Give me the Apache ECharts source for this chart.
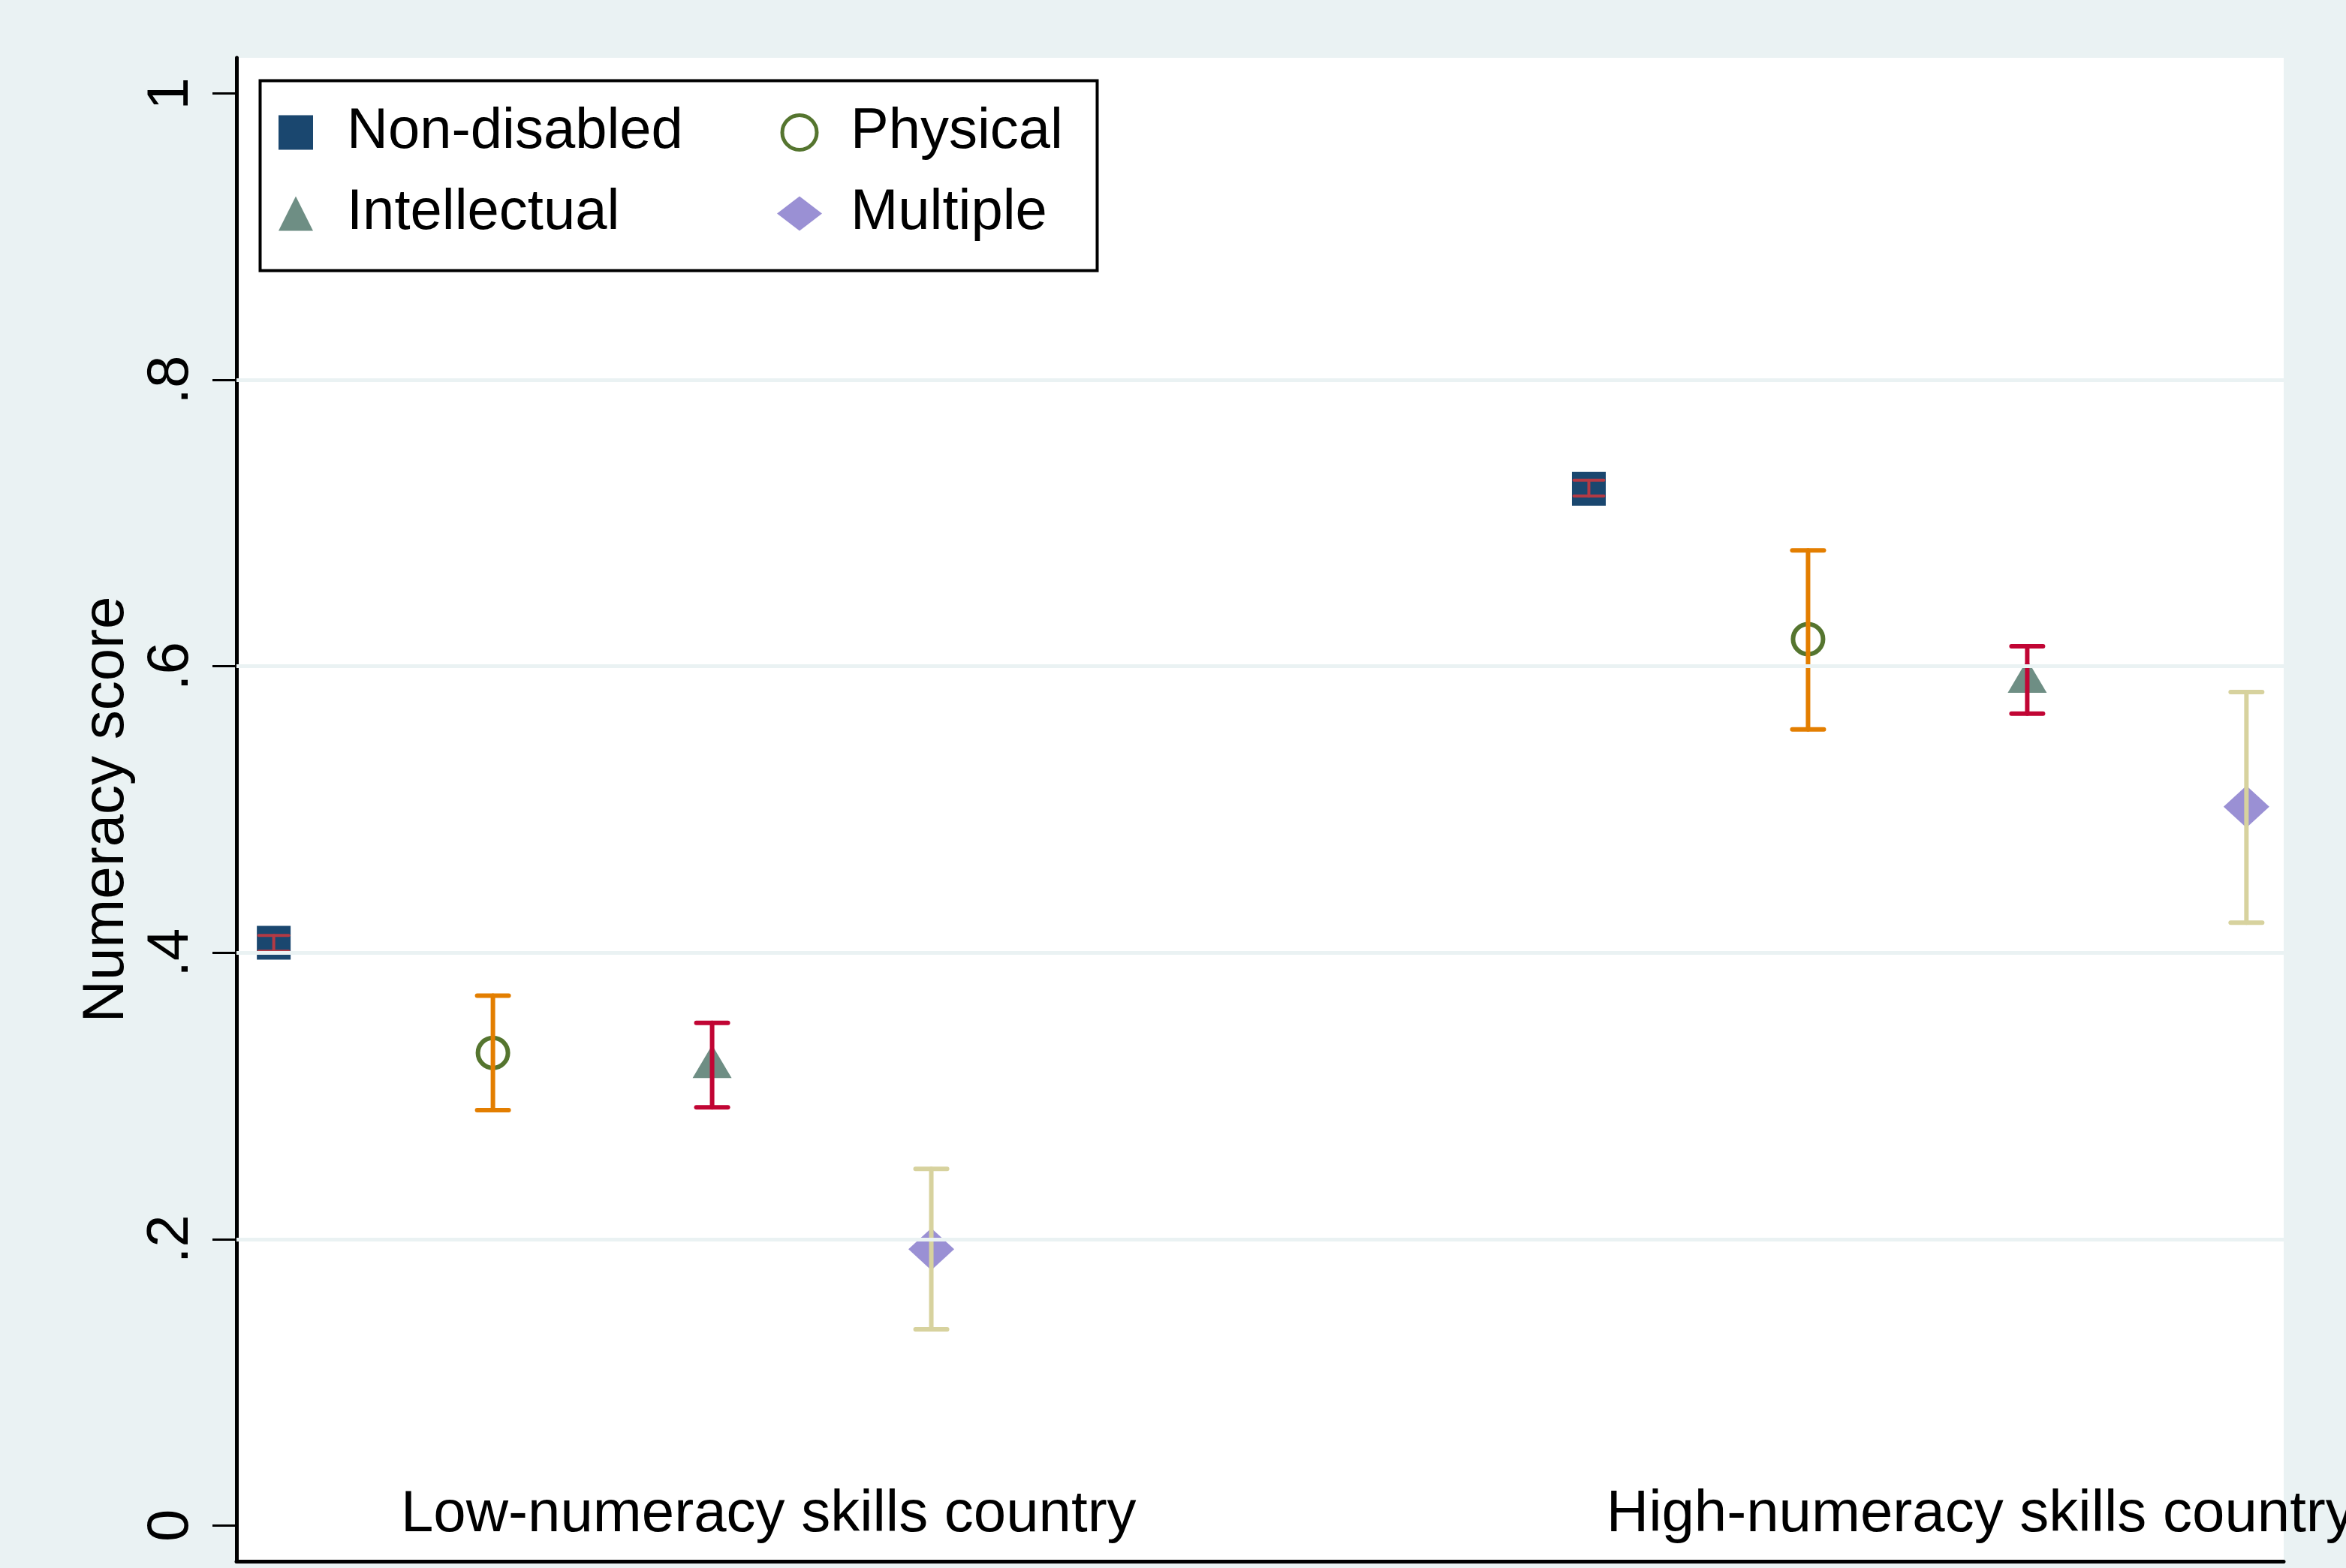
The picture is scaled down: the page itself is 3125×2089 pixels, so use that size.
<!DOCTYPE html>
<html>
<head>
<meta charset="utf-8">
<script src="https://cdn.jsdelivr.net/npm/echarts@6/dist/echarts.min.js"></script>
<style>
  html, body { margin: 0; padding: 0; background: #eaf2f3; }
  #chart-panel { width: 3125px; height: 2089px; }
</style>
</head>
<body>
<div id="chart-panel"></div>
<script>
// data
const groups = ['Low-numeracy skills country', 'High-numeracy skills country']
const categories = ['Non-disabled', 'Physical', 'Intellectual', 'Multiple']

// by category, in the order above
const meanLow = [0.407, 0.330, 0.324, 0.193]
const ciLowerLow = [0.401, 0.290, 0.292, 0.137]
const ciUpperLow = [0.412, 0.370, 0.351, 0.249]

const meanHigh = [0.724, 0.619, 0.593, 0.502]
const ciLowerHigh = [0.719, 0.556, 0.567, 0.421]
const ciUpperHigh = [0.730, 0.681, 0.614, 0.582]

const yTicks = [0, 0.2, 0.4, 0.6, 0.8, 1]
const gridValues = [0.2, 0.4, 0.6, 0.8]

! function () {
    const FONT = '"Liberation Sans", Arial, sans-serif'

    /* marker and error bar look per category */
    const looks = [
        { symbol: 'rect', size: 45, color: '#1a476f', empty: false, bar: '#b33a44', barWidth: 4, cap: 40 },
        { symbol: 'circle', size: 40, color: '#55752f', empty: true, bar: '#e37e00', barWidth: 6, cap: 42 },
        { symbol: 'triangle', size: [52, 44], color: '#6e8e84', empty: false, bar: '#c10534', barWidth: 6, cap: 42 },
        { symbol: 'diamond', size: [61, 56], color: '#9a90d4', empty: false, bar: '#d7d29e', barWidth: 6, cap: 42 }
    ]

    /* where the group annotations start on the x scale */
    const groupLabelX = [1.58, 7.08]

    const means = [meanLow, meanHigh]
    const lowers = [ciLowerLow, ciLowerHigh]
    const uppers = [ciUpperLow, ciUpperHigh]

    /* x slot: groups are 6 units apart, categories 1 unit apart. */
    function slot(gi, ci) {
        return gi * 6 + ci + 1
    }

    function tickText(v) {
        if (v === 0) return '0'
        if (v === 1) return '1'
        return String(+v.toFixed(1)).replace('0.', '.')
    }

    /* legend entries, the hollow one keeps a thick ring */
    function legendItem(name) {
        const look = looks[categories.indexOf(name)]
        return look.empty ? { name: name, itemStyle: { borderWidth: 5 } } : { name: name }
    }

    const series = []

    categories.forEach((name, ci) => {
        const look = looks[ci]
        series.push({
            name: name,
            type: 'scatter',
            z: 3,
            symbol: look.symbol,
            symbolSize: look.size,
            itemStyle: look.empty
                ? { color: '#ffffff', borderColor: look.color, borderWidth: 6, opacity: 1 }
                : { color: look.color, opacity: 1 },
            emphasis: { disabled: true },
            data: groups.map((g, gi) => [slot(gi, ci), means[gi][ci]])
        })
    })

    categories.forEach((name, ci) => {
        const look = looks[ci]
        series.push({
            name: name + ' CI',
            type: 'custom',
            z: 4,
            renderItem: function (params, api) {
                const x = api.value(0)
                const lo = api.coord([x, api.value(1)])
                const hi = api.coord([x, api.value(2)])
                const half = look.cap / 2
                const style = { stroke: look.bar, lineWidth: look.barWidth, lineCap: 'round' }
                return {
                    type: 'group',
                    children: [
                        { type: 'line', shape: { x1: lo[0], y1: lo[1], x2: hi[0], y2: hi[1] }, style: style },
                        { type: 'line', shape: { x1: lo[0] - half, y1: lo[1], x2: lo[0] + half, y2: lo[1] }, style: style },
                        { type: 'line', shape: { x1: hi[0] - half, y1: hi[1], x2: hi[0] + half, y2: hi[1] }, style: style }
                    ]
                }
            },
            data: groups.map((g, gi) => [slot(gi, ci), lowers[gi][ci], uppers[gi][ci]])
        })
    })

    /* group names written inside the plot, plus the light grid lines */
    series.push({
        name: 'groups',
        type: 'scatter',
        z: 1,
        symbolSize: 0,
        silent: true,
        itemStyle: { opacity: 1 },
        label: {
            show: true,
            position: 'right',
            distance: 0,
            formatter: '{b}',
            fontSize: 78,
            fontFamily: FONT,
            color: '#000000'
        },
        data: groups.map((g, gi) => ({ name: g, value: [groupLabelX[gi], 0.007] })),
        markLine: {
            silent: true,
            symbol: 'none',
            label: { show: false },
            lineStyle: { color: '#eaf2f3', width: 5, type: 'solid', opacity: 1 },
            data: gridValues.map(v => ({ yAxis: v }))
        }
    })

    const legendBase = {
        orient: 'vertical',
        top: 133,
        padding: 0,
        itemHeight: 46,
        itemGap: 21,
        selectedMode: false,
        textStyle: { fontSize: 76, fontFamily: FONT, color: '#000', lineHeight: 87 }
    }

    let myChart = echarts.init(document.getElementById('chart-panel'))
    myChart.setOption({
        backgroundColor: '#eaf2f3',
        animation: false,
        grid: {
            left: 315, right: 83, top: 77, bottom: 9,
            show: true, backgroundColor: '#ffffff', borderWidth: 0
        },
        legend: [
            Object.assign({}, legendBase, {
                data: ['Non-disabled', 'Intellectual'].map(legendItem),
                left: 371,
                itemWidth: 46,
                textStyle: Object.assign({}, legendBase.textStyle, { padding: [0, 0, 0, 40] })
            }),
            Object.assign({}, legendBase, {
                data: ['Physical', 'Multiple'].map(legendItem),
                left: 1035,
                itemWidth: 60,
                textStyle: Object.assign({}, legendBase.textStyle, { padding: [0, 0, 0, 33] })
            })
        ],
        graphic: [{
            type: 'rect',
            left: 344, top: 105,
            shape: { width: 1115, height: 253 },
            style: { fill: 'none', stroke: '#000', lineWidth: 4 },
            z: 10
        }],
        xAxis: {
            type: 'value',
            min: 0.83, max: 10.17,
            axisLine: { show: true, onZero: false, lineStyle: { color: '#000', width: 5 } },
            axisTick: { show: false },
            axisLabel: { show: false },
            splitLine: { show: false }
        },
        yAxis: {
            type: 'value',
            min: -0.025, max: 1.025,
            name: 'Numeracy score',
            nameLocation: 'middle',
            nameRotate: 90,
            nameGap: 132,
            nameTextStyle: { fontSize: 78, fontFamily: FONT, color: '#000' },
            axisLine: { show: true, onZero: false, lineStyle: { color: '#000', width: 5 } },
            axisTick: { show: true, length: 32, customValues: yTicks, lineStyle: { color: '#000', width: 3 } },
            axisLabel: {
                rotate: 90,
                margin: 48,
                customValues: yTicks,
                formatter: tickText,
                fontSize: 78,
                fontFamily: FONT,
                color: '#000'
            },
            splitLine: { show: false }
        },
        series: series
    })
}()
</script>
</body>
</html>
